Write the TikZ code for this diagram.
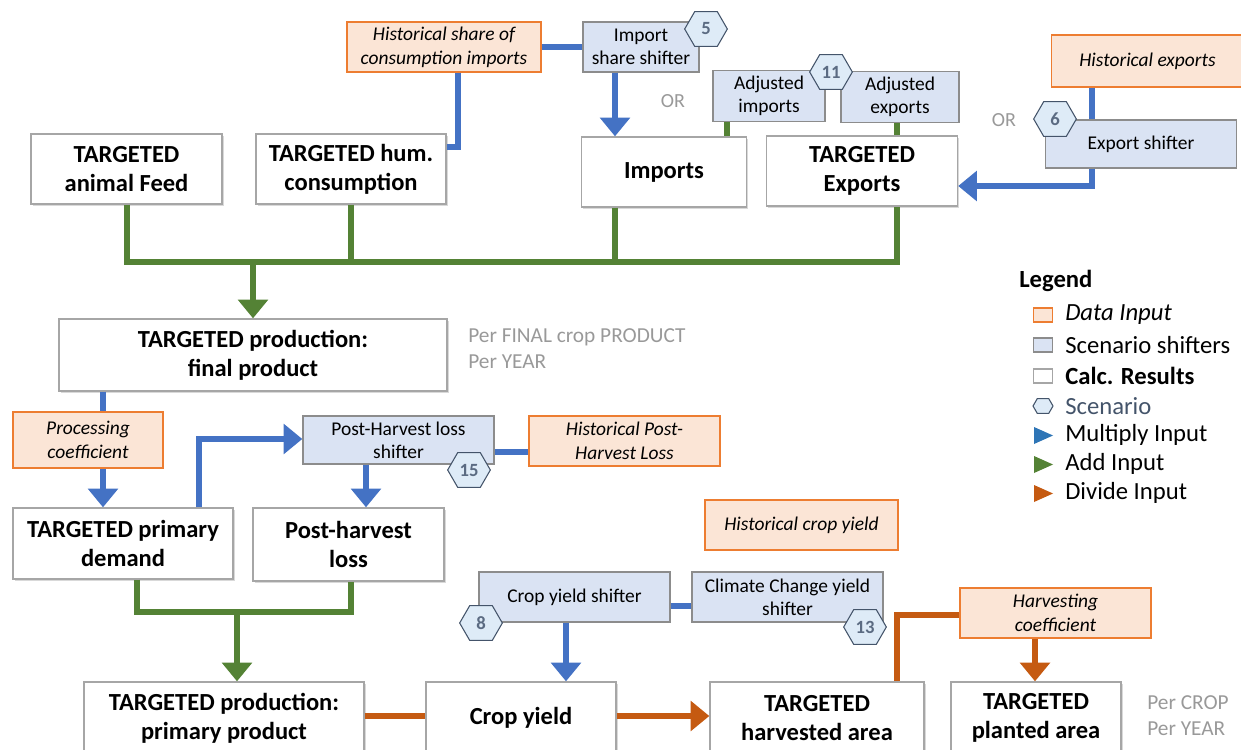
\documentclass[tikz,border=0pt]{standalone}
\usepackage{fontspec}
\setmainfont{Carlito}
\usetikzlibrary{arrows.meta,%
                shapes.symbols,%
                shadows}

\definecolor{datafill}{HTML}{FBE5D6}
\definecolor{dataline}{HTML}{ED7D31}
\definecolor{shiftfill}{HTML}{DAE3F3}
\definecolor{shiftline}{HTML}{8C8C8C}
\definecolor{calcline}{HTML}{A6A6A6}
\definecolor{hexfill}{HTML}{DEEBF7}
\definecolor{hexline}{HTML}{44546A}
\definecolor{hextext}{HTML}{5B6B82}
\definecolor{mulblue}{HTML}{4472C4}
\definecolor{legblue}{HTML}{2E75B6}
\definecolor{addgreen}{HTML}{548235}
\definecolor{divorange}{HTML}{C55A11}
\definecolor{notegrey}{HTML}{999999}

\begin{document}
\begin{tikzpicture}[x=0.75pt,y=-0.75pt,
  wh/.style 2 args={minimum width=#1*0.75pt,minimum height=#2*0.75pt},
  result/.style={draw=calcline,fill=white,line width=1pt,align=center,inner sep=2pt,
    font=\bfseries\fontsize{18.4}{22}\selectfont,
    drop shadow={shadow xshift=1.2pt,shadow yshift=-1.2pt,opacity=0.3}},
  shifter/.style={draw=shiftline,fill=shiftfill,line width=1pt,align=center,inner sep=2pt,
    font=\fontsize{14.6}{17.3}\selectfont},
  datain/.style={draw=dataline,fill=datafill,line width=1pt,align=center,inner sep=2pt,
    font=\itshape\fontsize{14.6}{17.8}\selectfont},
  hexa/.style={signal,signal to=east and west,signal pointer angle=120,
    draw=hexline,fill=hexfill,line width=0.8pt,inner sep=0pt,
    minimum width=32pt,minimum height=26pt,text=hextext,
    font=\bfseries\fontsize{14}{14}\selectfont},
  pernote/.style={text=notegrey,align=left,anchor=west,inner sep=0pt,
    font=\fontsize{16}{19.5}\selectfont},
  ortext/.style={text=notegrey,inner sep=0pt,font=\fontsize{15}{15}\selectfont},
  legtext/.style={anchor=west,inner sep=0pt,font=\fontsize{18.5}{20}\selectfont},
  mulline/.style={draw=mulblue,line width=4pt},
  addline/.style={draw=addgreen,line width=4pt},
  divline/.style={draw=divorange,line width=4pt},
  tip/.style={-{Triangle[width=22pt,length=14pt]}}]

  \useasboundingbox (0,0) rectangle (1241,749);

  % top row
  \node[datain,wh={194}{50}] (histshare) at (444,47) {Historical share of\\consumption imports};
  \node[shifter,wh={116}{50}] (impshift) at (641,47) {Import\\share shifter};
  \node[hexa] (sc5) at (706,29) {5};
  \node[shifter,wh={112}{51}] (adjimp) at (769,96) {Adjusted\\imports};
  \node[shifter,wh={118}{51}] (adjexp) at (900,97) {Adjusted\\exports};
  \node[hexa] (sc11) at (831,72) {11};
  \node[datain,wh={192}{52}] (histexp) at (1147.5,61) {Historical exports};
  \node[shifter,wh={191}{48}] (expshift) at (1141,144) {Export shifter};
  \node[hexa] (sc6) at (1055,119) {6};
  \node[ortext] (or1) at (673,101) {OR};
  \node[ortext] (or2) at (1004,120) {OR};

  \node[result,wh={191}{70}] (feed) at (126.5,169) {TARGETED\\animal Feed};
  \node[result,wh={190}{70}] (hum) at (351,169) {TARGETED hum.\\consumption};
  \node[result,wh={165}{70}] (imports) at (664,172) {Imports};
  \node[result,wh={191}{70}] (exports) at (862,171) {TARGETED\\Exports};

  \node[result,wh={388}{72}] (final) at (253,355) {TARGETED production:\\final product};
  \node[pernote] (perfinal) at (468,349) {Per FINAL crop PRODUCT\\Per YEAR};

  % middle
  \node[datain,wh={150}{56}] (proc) at (88,440) {Processing\\coefficient};
  \node[shifter,wh={191}{48}] (phshift) at (398.5,440) {Post-Harvest loss\\shifter};
  \node[hexa] (sc15) at (469,470) {15};
  \node[datain,wh={191}{50}] (histph) at (624.5,441) {Historical Post-\\Harvest Loss};
  \node[result,wh={220}{71}] (demand) at (123,543.5) {TARGETED primary\\demand};
  \node[result,wh={191}{73}] (loss) at (348.5,544.5) {Post-harvest\\loss};

  \node[datain,wh={193}{50}] (histyield) at (801.5,525) {Historical crop yield};
  \node[shifter,wh={191}{50}] (cyshift) at (574.5,597) {Crop yield shifter};
  \node[shifter,wh={191}{50}] (ccshift) at (787.5,597) {Climate Change yield\\shifter};
  \node[hexa] (sc8) at (481,623) {8};
  \node[hexa] (sc13) at (865,627) {13};
  \node[datain,wh={191}{50}] (harvcoef) at (1055.5,613) {Harvesting\\coefficient};

  % bottom row
  \node[result,wh={280}{72}] (primary) at (224,718) {TARGETED production:\\primary product};
  \node[result,wh={190}{72}] (cropyield) at (521,718) {Crop yield};
  \node[result,wh={214}{72}] (harv) at (817,718) {TARGETED\\harvested area};
  \node[result,wh={170}{72}] (planted) at (1036,718) {TARGETED\\planted area};
  \node[pernote] (percrop) at (1147,716) {Per CROP\\Per YEAR};

  % rails
  \coordinate (hs) at (458,147);
  \coordinate (imp) at (615,0);
  \coordinate (adj) at (727,0);
  \coordinate (ex) at (1092,186);
  \coordinate (busL) at (127,262);
  \coordinate (bus) at (253,262);
  \coordinate (busR) at (897,262);
  \coordinate (pc) at (103,0);
  \coordinate (ph) at (199,439);
  \coordinate (ls) at (366,0);
  \coordinate (phl) at (0,452);
  \coordinate (busL2) at (137,612);
  \coordinate (bus2) at (237,612);
  \coordinate (busR2) at (351,612);
  \coordinate (cy) at (566,0);
  \coordinate (cyl) at (0,606);
  \coordinate (hc) at (897,615);
  \coordinate (pl) at (1035,0);
  \coordinate (bot) at (0,716);

  \draw[mulline] (histshare.east) -- (impshift.west);
  \draw[mulline] (hs |- histshare.south) |- (hum.east |- hs);
  \draw[mulline,tip] (imp |- impshift.south) -- (imp |- imports.north);
  \draw[addline] (adj |- adjimp.south) -- (adj |- imports.north);
  \draw[addline] (busR |- adjexp.south) -- (busR |- exports.north);
  \draw[mulline] (ex |- histexp.south) -- (ex |- expshift.north);
  \draw[mulline,tip] (ex |- expshift.south) |- (exports.east |- ex);

  \draw[addline] (busL |- feed.south) -- (busL) -- (busR) -- (busR |- exports.south);
  \draw[addline] (hum.south) -- (hum.south |- bus);
  \draw[addline] (imp |- imports.south) -- (imp |- bus);
  \draw[addline,tip] (bus) -- (bus |- final.north);

  \draw[mulline] (pc |- final.south) -- (pc |- proc.north);
  \draw[mulline,tip] (pc |- proc.south) -- (pc |- demand.north);
  \draw[mulline,tip] (ph |- demand.north) |- (phshift.west |- ph);
  \draw[mulline,tip] (ls |- phshift.south) -- (ls |- loss.north);
  \draw[mulline] (phshift.east |- phl) -- (histph.west |- phl);

  \draw[addline] (busL2 |- demand.south) -- (busL2) -- (busR2) -- (busR2 |- loss.south);
  \draw[addline,tip] (bus2) -- (bus2 |- primary.north);

  \draw[mulline,tip] (cy |- cyshift.south) -- (cy |- cropyield.north);
  \draw[mulline] (cyshift.east |- cyl) -- (ccshift.west |- cyl);
  \draw[divline] (harvcoef.west |- hc) -| (hc |- harv.north);
  \draw[divline,tip] (pl |- harvcoef.south) -- (pl |- planted.north);
  \draw[divline] (primary.east |- bot) -- (cropyield.west |- bot);
  \draw[divline,tip] (cropyield.east |- bot) -- (harv.west |- bot);

  % legend
  \node[legtext,font=\bfseries\fontsize{18.5}{20}\selectfont] (legend) at (1019,281) {Legend};
  \node[draw=dataline,fill=datafill,line width=1pt,wh={19}{14}] (lgdata) at (1043,315) {};
  \node[draw=shiftline,fill=shiftfill,line width=1pt,wh={19}{14}] (lgshift) at (1043,345) {};
  \node[draw=calcline,fill=white,line width=1pt,wh={19}{14}] (lgcalc) at (1043,376) {};
  \node[hexa,minimum width=15pt,minimum height=11pt] (lghex) at (1043,406) {};
  \fill[legblue] (1034,427) -- (1053,435.5) -- (1034,444) -- cycle;
  \fill[addgreen] (1034,456) -- (1053,464.5) -- (1034,473) -- cycle;
  \fill[divorange] (1034,485) -- (1053,493.5) -- (1034,502) -- cycle;
  \node[legtext] (lgt1) at (1065,315) {\itshape Data Input};
  \node[legtext] (lgt2) at (1065,345) {Scenario shifters};
  \node[legtext] (lgt3) at (1065,376) {\bfseries Calc. Results};
  \node[legtext,text=hexline] (lgt4) at (1065,406) {Scenario};
  \node[legtext] (lgt5) at (1065,435) {Multiply Input};
  \node[legtext] (lgt6) at (1065,464) {Add Input};
  \node[legtext] (lgt7) at (1065,493) {Divide Input};

\end{tikzpicture}
\end{document}
